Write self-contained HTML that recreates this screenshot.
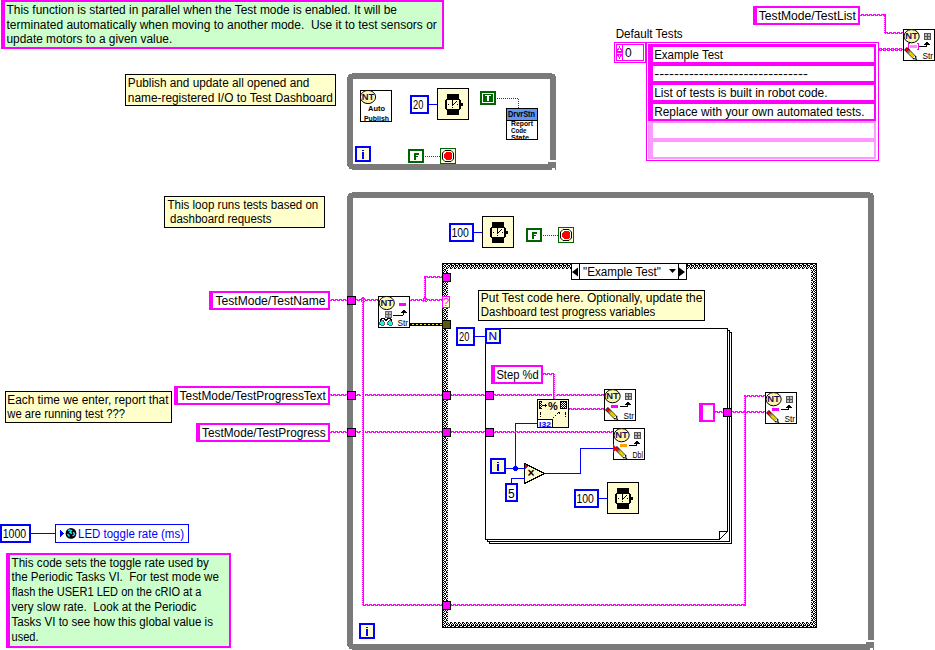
<!DOCTYPE html>
<html><head><meta charset="utf-8"><style>
html,body{margin:0;padding:0;background:#fff;width:935px;height:650px;overflow:hidden}
svg{display:block;position:absolute;left:0;top:0}
text{font-family:"Liberation Sans",sans-serif;white-space:pre}
</style></head><body>
<svg width="935" height="650" viewBox="0 0 935 650" shape-rendering="crispEdges">
<defs>
<pattern id="hw" x="0" y="0" width="4" height="2" patternUnits="userSpaceOnUse">
<rect x="1" y="0" width="3" height="1" fill="#ff00ff"/><rect x="0" y="1" width="2" height="1" fill="#ff00ff"/><rect x="3" y="1" width="1" height="1" fill="#ff00ff"/></pattern>
<pattern id="vw" x="0" y="0" width="2" height="2" patternUnits="userSpaceOnUse">
<rect x="0" y="0" width="1" height="1" fill="#ff00ff"/><rect x="1" y="0" width="1" height="2" fill="#ff00ff"/></pattern>
<pattern id="aw" x="879" y="48" width="4" height="3" patternUnits="userSpaceOnUse">
<rect x="0" y="0" width="3" height="3" fill="#ff00ff"/><rect x="1" y="1" width="1" height="1" fill="#fff"/><rect x="3" y="1" width="1" height="1" fill="#ff00ff"/></pattern>
<pattern id="ckt" x="0" y="264" width="4" height="5" patternUnits="userSpaceOnUse"><rect width="4" height="5" fill="#fff"/><rect x="2" y="0" width="1" height="1" fill="#000"/><rect x="3" y="0" width="1" height="1" fill="#000"/><rect x="0" y="1" width="1" height="1" fill="#000"/><rect x="1" y="1" width="1" height="1" fill="#000"/><rect x="3" y="1" width="1" height="1" fill="#000"/><rect x="1" y="2" width="1" height="1" fill="#000"/><rect x="3" y="2" width="1" height="1" fill="#000"/><rect x="0" y="3" width="1" height="1" fill="#000"/><rect x="2" y="3" width="1" height="1" fill="#000"/><rect x="2" y="4" width="1" height="1" fill="#000"/><rect x="3" y="4" width="1" height="1" fill="#000"/></pattern>
<pattern id="ckb" x="0" y="622" width="4" height="5" patternUnits="userSpaceOnUse"><rect width="4" height="5" fill="#fff"/><rect x="2" y="0" width="1" height="1" fill="#000"/><rect x="3" y="0" width="1" height="1" fill="#000"/><rect x="0" y="1" width="1" height="1" fill="#000"/><rect x="2" y="1" width="1" height="1" fill="#000"/><rect x="1" y="2" width="1" height="1" fill="#000"/><rect x="3" y="2" width="1" height="1" fill="#000"/><rect x="0" y="3" width="1" height="1" fill="#000"/><rect x="1" y="3" width="1" height="1" fill="#000"/><rect x="3" y="3" width="1" height="1" fill="#000"/><rect x="2" y="4" width="1" height="1" fill="#000"/><rect x="3" y="4" width="1" height="1" fill="#000"/></pattern>
<pattern id="ckl" x="443" y="0" width="5" height="4" patternUnits="userSpaceOnUse"><rect width="5" height="4" fill="#fff"/><rect x="0" y="0" width="1" height="1" fill="#000"/><rect x="3" y="0" width="1" height="1" fill="#000"/><rect x="4" y="0" width="1" height="1" fill="#000"/><rect x="1" y="1" width="1" height="1" fill="#000"/><rect x="2" y="1" width="1" height="1" fill="#000"/><rect x="0" y="2" width="1" height="1" fill="#000"/><rect x="2" y="2" width="1" height="1" fill="#000"/><rect x="4" y="2" width="1" height="1" fill="#000"/><rect x="1" y="3" width="1" height="1" fill="#000"/><rect x="3" y="3" width="1" height="1" fill="#000"/></pattern>
<pattern id="ckr" x="811" y="0" width="5" height="4" patternUnits="userSpaceOnUse"><rect width="5" height="4" fill="#fff"/><rect x="0" y="0" width="1" height="1" fill="#000"/><rect x="1" y="0" width="1" height="1" fill="#000"/><rect x="4" y="0" width="1" height="1" fill="#000"/><rect x="2" y="1" width="1" height="1" fill="#000"/><rect x="3" y="1" width="1" height="1" fill="#000"/><rect x="0" y="2" width="1" height="1" fill="#000"/><rect x="2" y="2" width="1" height="1" fill="#000"/><rect x="4" y="2" width="1" height="1" fill="#000"/><rect x="1" y="3" width="1" height="1" fill="#000"/><rect x="3" y="3" width="1" height="1" fill="#000"/></pattern>
<pattern id="dith" x="0" y="0" width="2" height="2" patternUnits="userSpaceOnUse">
<rect x="0" y="0" width="1" height="1" fill="#fff"/><rect x="1" y="1" width="1" height="1" fill="#fff"/></pattern>
<pattern id="olw" x="0" y="324" width="4" height="1" patternUnits="userSpaceOnUse">
<rect x="0" y="0" width="2" height="1" fill="#f0e820"/></pattern>
</defs>
<rect x="1" y="0" width="443" height="49" fill="#ccffcc" />
<rect x="1" y="0" width="443" height="2" fill="#ff00ff" />
<rect x="1" y="47" width="443" height="2" fill="#ff00ff" />
<rect x="1" y="0" width="4" height="49" fill="#ff00ff" />
<rect x="442" y="0" width="2" height="49" fill="#ff00ff" />
<text x="6.5" y="13.9" font-size="12" fill="#000" font-family="Liberation Sans" textLength="390.5" lengthAdjust="spacingAndGlyphs" >This function is started in parallel when the Test mode is enabled. It will be</text>
<text x="6.5" y="28.65" font-size="12" fill="#000" font-family="Liberation Sans" textLength="430.3" lengthAdjust="spacingAndGlyphs" >terminated automatically when moving to another mode.  Use it to test sensors or</text>
<text x="6.5" y="43.4" font-size="12" fill="#000" font-family="Liberation Sans" textLength="165.7" lengthAdjust="spacingAndGlyphs" >update motors to a given value.</text>
<rect x="125" y="74" width="211" height="32" fill="#ffffcc" />
<rect x="125" y="74" width="211" height="1" fill="#000" />
<rect x="125" y="105" width="211" height="1" fill="#000" />
<rect x="125" y="74" width="1" height="32" fill="#000" />
<rect x="335" y="74" width="1" height="32" fill="#000" />
<text x="127.8" y="87.0" font-size="12" fill="#000" font-family="Liberation Sans" textLength="181.5" lengthAdjust="spacingAndGlyphs" >Publish and update all opened and</text>
<text x="127.8" y="101.8" font-size="12" fill="#000" font-family="Liberation Sans" textLength="205" lengthAdjust="spacingAndGlyphs" >name-registered I/O to Test Dashboard</text>
<rect x="164" y="196" width="161" height="32" fill="#ffffcc" />
<rect x="164" y="196" width="161" height="1" fill="#000" />
<rect x="164" y="227" width="161" height="1" fill="#000" />
<rect x="164" y="196" width="1" height="32" fill="#000" />
<rect x="324" y="196" width="1" height="32" fill="#000" />
<text x="167.5" y="208.7" font-size="12" fill="#000" font-family="Liberation Sans" textLength="150.8" lengthAdjust="spacingAndGlyphs" >This loop runs tests based on</text>
<text x="170" y="223.2" font-size="12" fill="#000" font-family="Liberation Sans" textLength="101.5" lengthAdjust="spacingAndGlyphs" >dashboard requests</text>
<rect x="5" y="391" width="167" height="32" fill="#ffffcc" />
<rect x="5" y="391" width="167" height="1" fill="#000" />
<rect x="5" y="422" width="167" height="1" fill="#000" />
<rect x="5" y="391" width="1" height="32" fill="#000" />
<rect x="171" y="391" width="1" height="32" fill="#000" />
<text x="7.3" y="403.5" font-size="12" fill="#000" font-family="Liberation Sans" textLength="161.2" lengthAdjust="spacingAndGlyphs" >Each time we enter, report that</text>
<text x="7.3" y="418.1" font-size="12" fill="#000" font-family="Liberation Sans" textLength="117.8" lengthAdjust="spacingAndGlyphs" >we are running test ???</text>
<rect x="347" y="73" width="209" height="97" fill="#7a7a7a" />
<rect x="353" y="79" width="197" height="85" fill="#fff" />
<rect x="347" y="73" width="5" height="1" fill="#fff" />
<rect x="347" y="74" width="2" height="1" fill="#fff" />
<rect x="347" y="75" width="1" height="2" fill="#fff" />
<rect x="552" y="73" width="4" height="1" fill="#fff" />
<rect x="555" y="74" width="1" height="2" fill="#fff" />
<rect x="347" y="166" width="1" height="4" fill="#fff" />
<rect x="348" y="167" width="1" height="3" fill="#fff" />
<rect x="349" y="169" width="3" height="1" fill="#fff" />
<rect x="550" y="160" width="6" height="2" fill="#fff" />
<rect x="548" y="162" width="2" height="2" fill="#7a7a7a" />
<rect x="552" y="168" width="3" height="2" fill="#fff" />
<rect x="347" y="192" width="527" height="458" fill="#7a7a7a" />
<rect x="353" y="198" width="515" height="446" fill="#fff" />
<rect x="347" y="192" width="5" height="1" fill="#fff" />
<rect x="347" y="193" width="2" height="1" fill="#fff" />
<rect x="347" y="194" width="1" height="2" fill="#fff" />
<rect x="870" y="192" width="4" height="1" fill="#fff" />
<rect x="873" y="193" width="1" height="2" fill="#fff" />
<rect x="347" y="646" width="1" height="4" fill="#fff" />
<rect x="348" y="647" width="1" height="3" fill="#fff" />
<rect x="349" y="649" width="3" height="1" fill="#fff" />
<rect x="868" y="640" width="6" height="2" fill="#fff" />
<rect x="866" y="642" width="2" height="2" fill="#7a7a7a" />
<rect x="870" y="648" width="3" height="2" fill="#fff" />
<rect x="360" y="90" width="32" height="32" fill="#fff" />
<rect x="360" y="90" width="32" height="1" fill="#000" />
<rect x="360" y="121" width="32" height="1" fill="#000" />
<rect x="360" y="90" width="1" height="32" fill="#000" />
<rect x="391" y="90" width="1" height="32" fill="#000" />
<ellipse cx="368" cy="97" rx="7.6" ry="6.6" fill="#fff6a8" stroke="#000" stroke-width="1" shape-rendering="auto"/>
<text x="361.7" y="100.2" font-size="9.5" fill="#10105a" font-family="Liberation Sans" textLength="12.5" lengthAdjust="spacingAndGlyphs" font-weight="bold" >NT</text>
<text x="368" y="111" font-size="8" fill="#000" font-family="Liberation Sans" textLength="17" lengthAdjust="spacingAndGlyphs" font-weight="bold" >Auto</text>
<text x="364" y="121" font-size="8" fill="#000" font-family="Liberation Sans" textLength="25" lengthAdjust="spacingAndGlyphs" font-weight="bold" >Publish</text>
<rect x="410" y="95" width="19" height="19" fill="#fff" />
<rect x="410" y="95" width="19" height="2" fill="#0000ff" />
<rect x="410" y="112" width="19" height="2" fill="#0000ff" />
<rect x="410" y="95" width="2" height="19" fill="#0000ff" />
<rect x="427" y="95" width="2" height="19" fill="#0000ff" />
<text x="413" y="109" font-size="12" fill="#000" font-family="Liberation Sans" textLength="10.3" lengthAdjust="spacingAndGlyphs" >20</text>
<rect x="429" y="104" width="9" height="1" fill="#0000ff" />
<rect x="437" y="88" width="32" height="32" fill="#fffcd0" />
<rect x="437" y="88" width="32" height="1" fill="#000" />
<rect x="437" y="119" width="32" height="1" fill="#000" />
<rect x="437" y="88" width="1" height="32" fill="#000" />
<rect x="468" y="88" width="1" height="32" fill="#000" />
<rect x="447" y="94" width="12" height="5" fill="#000" />
<rect x="447" y="110" width="12" height="5" fill="#000" />
<rect x="446" y="99" width="14" height="1" fill="#000" />
<rect x="446" y="109" width="14" height="1" fill="#000" />
<rect x="445" y="100" width="2" height="9" fill="#000" />
<rect x="459" y="100" width="2" height="9" fill="#000" />
<rect x="461" y="103" width="2" height="3" fill="#000" />
<rect x="452" y="100" width="1" height="6" fill="#000" />
<rect x="453" y="104" width="1" height="1" fill="#000" />
<rect x="454" y="103" width="1" height="1" fill="#000" />
<rect x="455" y="102" width="1" height="1" fill="#000" />
<rect x="456" y="101" width="1" height="1" fill="#000" />
<rect x="448" y="104" width="1" height="1" fill="#000" />
<rect x="457" y="104" width="1" height="1" fill="#000" />
<rect x="452" y="107" width="1" height="1" fill="#000" />
<rect x="480" y="91" width="16" height="14" fill="#006400" />
<rect x="482" y="93" width="12" height="1" fill="#fff" />
<rect x="482" y="102" width="12" height="1" fill="#fff" />
<rect x="482" y="93" width="1" height="10" fill="#fff" />
<rect x="493" y="93" width="1" height="10" fill="#fff" />
<rect x="485" y="95" width="6" height="1" fill="#fff" />
<rect x="487" y="96" width="2" height="5" fill="#fff" />
<polyline points="496.5,98.5 518.5,98.5 518.5,108.5" fill="none" stroke="#006400" stroke-width="1" stroke-dasharray="1,1"/>
<rect x="506" y="108" width="32" height="32" fill="#fff" />
<rect x="506" y="108" width="32" height="1" fill="#000" />
<rect x="506" y="139" width="32" height="1" fill="#000" />
<rect x="506" y="108" width="1" height="32" fill="#000" />
<rect x="537" y="108" width="1" height="32" fill="#000" />
<rect x="507" y="109" width="30" height="11" fill="#6495ed" />
<rect x="507" y="120" width="30" height="1" fill="#000" />
<text x="508" y="117" font-size="8.5" fill="#000" font-family="Liberation Sans" textLength="27" lengthAdjust="spacingAndGlyphs" font-weight="bold" >DrvrStn</text>
<text x="511" y="126" font-size="7" fill="#000" font-family="Liberation Sans" textLength="22" lengthAdjust="spacingAndGlyphs" font-weight="bold" >Report</text>
<text x="511" y="133" font-size="7" fill="#000" font-family="Liberation Sans" textLength="15.5" lengthAdjust="spacingAndGlyphs" font-weight="bold" >Code</text>
<text x="511" y="140" font-size="7" fill="#000" font-family="Liberation Sans" textLength="18" lengthAdjust="spacingAndGlyphs" font-weight="bold" >State</text>
<rect x="506" y="139" width="32" height="1" fill="#000" />
<rect x="355" y="146" width="16" height="16" fill="#fffcd0" />
<rect x="355" y="146" width="16" height="2" fill="#0000ff" />
<rect x="355" y="160" width="16" height="2" fill="#0000ff" />
<rect x="355" y="146" width="2" height="16" fill="#0000ff" />
<rect x="369" y="146" width="2" height="16" fill="#0000ff" />
<rect x="362" y="150" width="2" height="1" fill="#0000ff" />
<rect x="362" y="152" width="2" height="7" fill="#0000ff" />
<rect x="408" y="149" width="16" height="14" fill="#fff" />
<rect x="408" y="149" width="16" height="2" fill="#006400" />
<rect x="408" y="161" width="16" height="2" fill="#006400" />
<rect x="408" y="149" width="2" height="14" fill="#006400" />
<rect x="422" y="149" width="2" height="14" fill="#006400" />
<rect x="414" y="153" width="2" height="7" fill="#006400" />
<rect x="414" y="153" width="5" height="2" fill="#006400" />
<rect x="414" y="156" width="4" height="1" fill="#006400" />
<polyline points="424.5,156.5 440.5,156.5" fill="none" stroke="#006400" stroke-width="1" stroke-dasharray="1,1"/>
<rect x="440" y="148" width="16" height="16" fill="#fffcd0" />
<rect x="440" y="148" width="16" height="1" fill="#006400" />
<rect x="440" y="163" width="16" height="1" fill="#006400" />
<rect x="440" y="148" width="1" height="16" fill="#006400" />
<rect x="455" y="148" width="1" height="16" fill="#006400" />
<path d="M445,150.5 H451 L453.5,153 V159 L451,161.5 H445 L442.5,159 V153 Z" fill="#fff" stroke="#000" stroke-width="1" shape-rendering="auto"/>
<path d="M446,152 H450 L452,154 V158 L450,160 H446 L444,158 V154 Z" fill="#ff0000"/>
<rect x="449" y="223" width="25" height="19" fill="#fff" />
<rect x="449" y="223" width="25" height="2" fill="#0000ff" />
<rect x="449" y="240" width="25" height="2" fill="#0000ff" />
<rect x="449" y="223" width="2" height="19" fill="#0000ff" />
<rect x="472" y="223" width="2" height="19" fill="#0000ff" />
<text x="451.5" y="237" font-size="12" fill="#000" font-family="Liberation Sans" textLength="17.4" lengthAdjust="spacingAndGlyphs" >100</text>
<rect x="474" y="232" width="9" height="1" fill="#0000ff" />
<rect x="482" y="216" width="32" height="32" fill="#fffcd0" />
<rect x="482" y="216" width="32" height="1" fill="#000" />
<rect x="482" y="247" width="32" height="1" fill="#000" />
<rect x="482" y="216" width="1" height="32" fill="#000" />
<rect x="513" y="216" width="1" height="32" fill="#000" />
<rect x="492" y="222" width="12" height="5" fill="#000" />
<rect x="492" y="238" width="12" height="5" fill="#000" />
<rect x="491" y="227" width="14" height="1" fill="#000" />
<rect x="491" y="237" width="14" height="1" fill="#000" />
<rect x="490" y="228" width="2" height="9" fill="#000" />
<rect x="504" y="228" width="2" height="9" fill="#000" />
<rect x="506" y="231" width="2" height="3" fill="#000" />
<rect x="497" y="228" width="1" height="6" fill="#000" />
<rect x="498" y="232" width="1" height="1" fill="#000" />
<rect x="499" y="231" width="1" height="1" fill="#000" />
<rect x="500" y="230" width="1" height="1" fill="#000" />
<rect x="501" y="229" width="1" height="1" fill="#000" />
<rect x="493" y="232" width="1" height="1" fill="#000" />
<rect x="502" y="232" width="1" height="1" fill="#000" />
<rect x="497" y="235" width="1" height="1" fill="#000" />
<rect x="526" y="228" width="16" height="14" fill="#fff" />
<rect x="526" y="228" width="16" height="2" fill="#006400" />
<rect x="526" y="240" width="16" height="2" fill="#006400" />
<rect x="526" y="228" width="2" height="14" fill="#006400" />
<rect x="540" y="228" width="2" height="14" fill="#006400" />
<rect x="532" y="232" width="2" height="7" fill="#006400" />
<rect x="532" y="232" width="5" height="2" fill="#006400" />
<rect x="532" y="235" width="4" height="1" fill="#006400" />
<polyline points="542.5,235.5 558.5,235.5" fill="none" stroke="#006400" stroke-width="1" stroke-dasharray="1,1"/>
<rect x="558" y="227" width="16" height="16" fill="#fffcd0" />
<rect x="558" y="227" width="16" height="1" fill="#006400" />
<rect x="558" y="242" width="16" height="1" fill="#006400" />
<rect x="558" y="227" width="1" height="16" fill="#006400" />
<rect x="573" y="227" width="1" height="16" fill="#006400" />
<path d="M563,229.5 H569 L571.5,232 V238 L569,240.5 H563 L560.5,238 V232 Z" fill="#fff" stroke="#000" stroke-width="1" shape-rendering="auto"/>
<path d="M564,231 H568 L570,233 V237 L568,239 H564 L562,237 V233 Z" fill="#ff0000"/>
<rect x="359" y="623" width="16" height="16" fill="#fffcd0" />
<rect x="359" y="623" width="16" height="2" fill="#0000ff" />
<rect x="359" y="637" width="16" height="2" fill="#0000ff" />
<rect x="359" y="623" width="2" height="16" fill="#0000ff" />
<rect x="373" y="623" width="2" height="16" fill="#0000ff" />
<rect x="366" y="627" width="2" height="1" fill="#0000ff" />
<rect x="366" y="629" width="2" height="7" fill="#0000ff" />
<rect x="443" y="264" width="373" height="5" fill="url(#ckt)" />
<rect x="443" y="622" width="373" height="5" fill="url(#ckb)" />
<rect x="443" y="264" width="5" height="363" fill="url(#ckl)" />
<rect x="811" y="264" width="5" height="363" fill="url(#ckr)" />
<rect x="442" y="263" width="375" height="1" fill="#000" />
<rect x="442" y="627" width="375" height="1" fill="#000" />
<rect x="442" y="263" width="1" height="365" fill="#000" />
<rect x="816" y="263" width="1" height="365" fill="#000" />
<rect x="571" y="263" width="116" height="17" fill="#fff" />
<rect x="571" y="263" width="116" height="1" fill="#000" />
<rect x="571" y="279" width="116" height="1" fill="#000" />
<rect x="571" y="263" width="1" height="17" fill="#000" />
<rect x="686" y="263" width="1" height="17" fill="#000" />
<rect x="579" y="263" width="1" height="17" fill="#000" />
<rect x="678" y="263" width="1" height="17" fill="#000" />
<path d="M572,272 L578,267.5 L578,276.5 Z" fill="#000" shape-rendering="auto"/>
<path d="M685,272 L679,267.5 L679,276.5 Z" fill="#000" shape-rendering="auto"/>
<path d="M669,269 L676,269 L672.5,273 Z" fill="#000" shape-rendering="auto"/>
<text x="583" y="276" font-size="12" fill="#000" font-family="Liberation Sans" textLength="78" lengthAdjust="spacingAndGlyphs" >"Example Test"</text>
<rect x="478" y="290" width="227" height="31" fill="#ffffcc" />
<rect x="478" y="290" width="227" height="1" fill="#000" />
<rect x="478" y="320" width="227" height="1" fill="#000" />
<rect x="478" y="290" width="1" height="31" fill="#000" />
<rect x="704" y="290" width="1" height="31" fill="#000" />
<text x="480.8" y="301.8" font-size="12" fill="#000" font-family="Liberation Sans" textLength="221.5" lengthAdjust="spacingAndGlyphs" >Put Test code here. Optionally, update the</text>
<text x="480.8" y="316.40000000000003" font-size="12" fill="#000" font-family="Liberation Sans" textLength="174.5" lengthAdjust="spacingAndGlyphs" >Dashboard test progress variables</text>
<rect x="485" y="328" width="243" height="1" fill="#000" />
<rect x="485" y="328" width="1" height="212" fill="#000" />
<rect x="727" y="328" width="1" height="204" fill="#000" />
<rect x="485" y="539" width="235" height="1" fill="#000" />
<rect x="727" y="330" width="3" height="1" fill="#000" />
<rect x="729" y="330" width="1" height="212" fill="#000" />
<rect x="487" y="541" width="243" height="1" fill="#000" />
<rect x="487" y="539" width="1" height="3" fill="#000" />
<rect x="729" y="332" width="3" height="1" fill="#000" />
<rect x="731" y="332" width="1" height="212" fill="#000" />
<rect x="489" y="543" width="243" height="1" fill="#000" />
<rect x="489" y="541" width="1" height="3" fill="#000" />
<path d="M719.5,539.5 L719.5,531.5 L727.5,531.5 Z" fill="#fff" stroke="#000" stroke-width="1"/>
<rect x="456" y="327" width="19" height="19" fill="#fff" />
<rect x="456" y="327" width="19" height="2" fill="#0000ff" />
<rect x="456" y="344" width="19" height="2" fill="#0000ff" />
<rect x="456" y="327" width="2" height="19" fill="#0000ff" />
<rect x="473" y="327" width="2" height="19" fill="#0000ff" />
<text x="459" y="341" font-size="12" fill="#000" font-family="Liberation Sans" textLength="10.3" lengthAdjust="spacingAndGlyphs" >20</text>
<rect x="475" y="336" width="11" height="1" fill="#0000ff" />
<rect x="485" y="328" width="16" height="16" fill="#fffcd0" />
<rect x="485" y="328" width="16" height="2" fill="#0000ff" />
<rect x="485" y="342" width="16" height="2" fill="#0000ff" />
<rect x="485" y="328" width="2" height="16" fill="#0000ff" />
<rect x="499" y="328" width="2" height="16" fill="#0000ff" />
<text x="488.5" y="340.3" font-size="11.5" fill="#0000ff" font-family="Liberation Sans" textLength="8.5" lengthAdjust="spacingAndGlyphs" stroke="#0000ff" stroke-width="0.2">N</text>
<rect x="491" y="365" width="52" height="19" fill="#fff" />
<rect x="491" y="365" width="52" height="2" fill="#ff00ff" />
<rect x="491" y="382" width="52" height="2" fill="#ff00ff" />
<rect x="491" y="365" width="4" height="19" fill="#ff00ff" />
<rect x="541" y="365" width="2" height="19" fill="#ff00ff" />
<text x="496.4" y="379" font-size="12" fill="#000" font-family="Liberation Sans" textLength="42.3" lengthAdjust="spacingAndGlyphs" >Step %d</text>
<rect x="537" y="399" width="32" height="29" fill="#fffcd0" />
<rect x="537" y="399" width="32" height="1" fill="#000" />
<rect x="537" y="427" width="32" height="1" fill="#000" />
<rect x="537" y="399" width="1" height="29" fill="#000" />
<rect x="568" y="399" width="1" height="29" fill="#000" />
<rect x="539" y="401" width="3" height="8" fill="#000" />
<rect x="540" y="402" width="1" height="1" fill="#fffcd0" />
<rect x="540" y="404" width="1" height="1" fill="#fffcd0" />
<rect x="540" y="406" width="1" height="1" fill="#fffcd0" />
<rect x="541" y="403" width="1" height="1" fill="#fffcd0" />
<rect x="541" y="405" width="1" height="1" fill="#fffcd0" />
<rect x="541" y="407" width="1" height="1" fill="#fffcd0" />
<rect x="542" y="405" width="4" height="1" fill="#000" />
<rect x="545" y="404" width="1" height="3" fill="#000" />
<rect x="546" y="405" width="1" height="1" fill="#000" />
<text x="553" y="409.5" font-size="11" fill="#000" font-family="Liberation Sans" text-anchor="middle" font-weight="bold" shape-rendering="auto">%</text>
<rect x="560" y="401" width="7" height="8" fill="#000" />
<rect x="561" y="402" width="5" height="6" fill="url(#dith)"/>
<rect x="540" y="412" width="1" height="3" fill="#000" />
<rect x="540" y="416" width="1" height="1" fill="#000" />
<rect x="565" y="412" width="1" height="3" fill="#000" />
<rect x="565" y="416" width="1" height="1" fill="#000" />
<rect x="553" y="417" width="1" height="1" fill="#000" />
<rect x="555" y="415" width="1" height="1" fill="#000" />
<rect x="557" y="413" width="1" height="1" fill="#000" />
<rect x="558" y="412" width="2" height="1" fill="#000" />
<rect x="559" y="413" width="1" height="1" fill="#000" />
<rect x="537" y="419" width="16" height="9" fill="#fff" />
<rect x="537" y="419" width="16" height="1" fill="#000" />
<rect x="537" y="427" width="16" height="1" fill="#000" />
<rect x="537" y="419" width="1" height="9" fill="#000" />
<rect x="552" y="419" width="1" height="9" fill="#000" />
<text x="545" y="427" font-size="7.5" fill="#0000ff" font-family="Liberation Sans" textLength="12" lengthAdjust="spacingAndGlyphs" text-anchor="middle" font-weight="bold" >I32</text>
<path d="M524.5,463.5 L544.5,473.5 L524.5,483.5 Z" fill="#fffcd0" stroke="#000" stroke-width="1"/>
<path d="M525,464 L528,466 L525,469 Z" fill="#e00"/>
<text x="531" y="477" font-size="12" fill="#000" font-family="Liberation Sans" text-anchor="middle" font-weight="bold" >×</text>
<rect x="490" y="458" width="16" height="16" fill="#fffcd0" />
<rect x="490" y="458" width="16" height="2" fill="#0000ff" />
<rect x="490" y="472" width="16" height="2" fill="#0000ff" />
<rect x="490" y="458" width="2" height="16" fill="#0000ff" />
<rect x="504" y="458" width="2" height="16" fill="#0000ff" />
<rect x="497" y="462" width="2" height="1" fill="#0000ff" />
<rect x="497" y="464" width="2" height="7" fill="#0000ff" />
<rect x="505" y="483" width="13" height="19" fill="#fff" />
<rect x="505" y="483" width="13" height="2" fill="#0000ff" />
<rect x="505" y="500" width="13" height="2" fill="#0000ff" />
<rect x="505" y="483" width="2" height="19" fill="#0000ff" />
<rect x="516" y="483" width="2" height="19" fill="#0000ff" />
<text x="508" y="498" font-size="12" fill="#000" font-family="Liberation Sans" >5</text>
<rect x="506" y="468" width="19" height="1" fill="#0000ff" />
<circle cx="515.5" cy="468.5" r="2.5" fill="#0000ff"/>
<rect x="515" y="423" width="1" height="46" fill="#0000ff" />
<rect x="515" y="423" width="23" height="1" fill="#0000ff" />
<rect x="511" y="478" width="1" height="6" fill="#0000ff" />
<rect x="511" y="478" width="14" height="1" fill="#0000ff" />
<rect x="545" y="473" width="36" height="1" fill="#0000ff" />
<rect x="580" y="448" width="1" height="26" fill="#0000ff" />
<rect x="580" y="448" width="34" height="1" fill="#0000ff" />
<rect x="574" y="489" width="25" height="19" fill="#fff" />
<rect x="574" y="489" width="25" height="2" fill="#0000ff" />
<rect x="574" y="506" width="25" height="2" fill="#0000ff" />
<rect x="574" y="489" width="2" height="19" fill="#0000ff" />
<rect x="597" y="489" width="2" height="19" fill="#0000ff" />
<text x="576.5" y="503" font-size="12" fill="#000" font-family="Liberation Sans" textLength="17.4" lengthAdjust="spacingAndGlyphs" >100</text>
<rect x="599" y="498" width="9" height="1" fill="#0000ff" />
<rect x="607" y="482" width="32" height="32" fill="#fffcd0" />
<rect x="607" y="482" width="32" height="1" fill="#000" />
<rect x="607" y="513" width="32" height="1" fill="#000" />
<rect x="607" y="482" width="1" height="32" fill="#000" />
<rect x="638" y="482" width="1" height="32" fill="#000" />
<rect x="617" y="488" width="12" height="5" fill="#000" />
<rect x="617" y="504" width="12" height="5" fill="#000" />
<rect x="616" y="493" width="14" height="1" fill="#000" />
<rect x="616" y="503" width="14" height="1" fill="#000" />
<rect x="615" y="494" width="2" height="9" fill="#000" />
<rect x="629" y="494" width="2" height="9" fill="#000" />
<rect x="631" y="497" width="2" height="3" fill="#000" />
<rect x="622" y="494" width="1" height="6" fill="#000" />
<rect x="623" y="498" width="1" height="1" fill="#000" />
<rect x="624" y="497" width="1" height="1" fill="#000" />
<rect x="625" y="496" width="1" height="1" fill="#000" />
<rect x="626" y="495" width="1" height="1" fill="#000" />
<rect x="618" y="498" width="1" height="1" fill="#000" />
<rect x="627" y="498" width="1" height="1" fill="#000" />
<rect x="622" y="501" width="1" height="1" fill="#000" />
<rect x="604" y="389" width="32" height="32" fill="#fff" />
<rect x="604" y="389" width="32" height="1" fill="#000" />
<rect x="604" y="420" width="32" height="1" fill="#000" />
<rect x="604" y="389" width="1" height="32" fill="#000" />
<rect x="635" y="389" width="1" height="32" fill="#000" />
<ellipse cx="612.6" cy="396.2" rx="7.6" ry="6.6" fill="#fff6a8" stroke="#000" stroke-width="1" shape-rendering="auto"/>
<text x="606.3000000000001" y="399.4" font-size="9.5" fill="#10105a" font-family="Liberation Sans" textLength="12.5" lengthAdjust="spacingAndGlyphs" font-weight="bold" >NT</text>
<rect x="625" y="393" width="7" height="7" fill="#555" />
<rect x="626" y="394" width="2" height="2" fill="#bbb" />
<rect x="629" y="394" width="2" height="2" fill="#bbb" />
<rect x="626" y="397" width="2" height="2" fill="#bbb" />
<rect x="629" y="397" width="2" height="2" fill="#bbb" />
<rect x="611" y="405" width="7" height="3" fill="#ff00ff" />
<path d="M620,406.5 H625 Q628,406.5 628,405" fill="none" stroke="#000" stroke-width="1"/>
<path d="M625,405 L628,401 L631,405 Z" fill="#000"/>
<g transform="translate(606.5,408.5) rotate(45)" shape-rendering="auto"><rect x="0" y="-2" width="14" height="4" fill="#000"/><rect x="0.5" y="-1.5" width="3" height="3" fill="#f00"/><rect x="3.5" y="-1.5" width="2" height="3" fill="#888"/><rect x="5.5" y="-1.5" width="6" height="3" fill="#e8d000"/><path d="M11.5,-1.5 L14,0 L11.5,1.5 Z" fill="#fff"/><rect x="14" y="-0.7" width="2" height="1.4" fill="#000"/></g>
<text x="623.5" y="419" font-size="9.5" fill="#000" font-family="Liberation Sans" textLength="10.5" lengthAdjust="spacingAndGlyphs" >Str</text>
<rect x="613" y="428" width="32" height="32" fill="#fff" />
<rect x="613" y="428" width="32" height="1" fill="#000" />
<rect x="613" y="459" width="32" height="1" fill="#000" />
<rect x="613" y="428" width="1" height="32" fill="#000" />
<rect x="644" y="428" width="1" height="32" fill="#000" />
<ellipse cx="621.6" cy="435.2" rx="7.6" ry="6.6" fill="#fff6a8" stroke="#000" stroke-width="1" shape-rendering="auto"/>
<text x="615.3000000000001" y="438.4" font-size="9.5" fill="#10105a" font-family="Liberation Sans" textLength="12.5" lengthAdjust="spacingAndGlyphs" font-weight="bold" >NT</text>
<rect x="634" y="432" width="7" height="7" fill="#555" />
<rect x="635" y="433" width="2" height="2" fill="#bbb" />
<rect x="638" y="433" width="2" height="2" fill="#bbb" />
<rect x="635" y="436" width="2" height="2" fill="#bbb" />
<rect x="638" y="436" width="2" height="2" fill="#bbb" />
<rect x="620" y="444" width="7" height="3" fill="#ffa000" />
<path d="M629,445.5 H634 Q637,445.5 637,444" fill="none" stroke="#000" stroke-width="1"/>
<path d="M634,444 L637,440 L640,444 Z" fill="#000"/>
<g transform="translate(615.5,447.5) rotate(45)" shape-rendering="auto"><rect x="0" y="-2" width="14" height="4" fill="#000"/><rect x="0.5" y="-1.5" width="3" height="3" fill="#f00"/><rect x="3.5" y="-1.5" width="2" height="3" fill="#888"/><rect x="5.5" y="-1.5" width="6" height="3" fill="#e8d000"/><path d="M11.5,-1.5 L14,0 L11.5,1.5 Z" fill="#fff"/><rect x="14" y="-0.7" width="2" height="1.4" fill="#000"/></g>
<text x="632.5" y="458" font-size="9.5" fill="#000" font-family="Liberation Sans" textLength="10.5" lengthAdjust="spacingAndGlyphs" >Dbl</text>
<path d="M613,444 L617,448.5 L613,453 Z" fill="#e00" shape-rendering="auto"/>
<rect x="378" y="296" width="32" height="32" fill="#fff" />
<rect x="378" y="296" width="32" height="1" fill="#000" />
<rect x="378" y="327" width="32" height="1" fill="#000" />
<rect x="378" y="296" width="1" height="32" fill="#000" />
<rect x="409" y="296" width="1" height="32" fill="#000" />
<ellipse cx="386.7" cy="303" rx="7.6" ry="6.6" fill="#fff6a8" stroke="#000" stroke-width="1" shape-rendering="auto"/>
<text x="380.4" y="306.2" font-size="9.5" fill="#10105a" font-family="Liberation Sans" textLength="12.5" lengthAdjust="spacingAndGlyphs" font-weight="bold" >NT</text>
<rect x="399" y="303" width="7" height="3" fill="#ff00ff" />
<rect x="385" y="311" width="7" height="7" fill="#666" />
<rect x="386" y="312" width="2" height="2" fill="#bbb" />
<rect x="389" y="312" width="2" height="2" fill="#bbb" />
<rect x="386" y="315" width="2" height="2" fill="#bbb" />
<rect x="389" y="315" width="2" height="2" fill="#bbb" />
<path d="M393,315.5 H401 Q404,315.5 404,313" fill="none" stroke="#000" stroke-width="1"/>
<path d="M401,313 L404,309 L407,313 Z" fill="#000"/>
<path d="M380,321 q3,-6 6,0 q3,-6 6,0" fill="none" stroke="#000" stroke-width="1"/>
<circle cx="382" cy="323" r="2.5" fill="#2ee" stroke="#000" stroke-width="0.6"/>
<circle cx="390" cy="323" r="2.5" fill="#2ee" stroke="#000" stroke-width="0.6"/>
<text x="397.5" y="326" font-size="9.5" fill="#000" font-family="Liberation Sans" textLength="10.5" lengthAdjust="spacingAndGlyphs" >Str</text>
<rect x="765" y="392" width="32" height="32" fill="#fff" />
<rect x="765" y="392" width="32" height="1" fill="#000" />
<rect x="765" y="423" width="32" height="1" fill="#000" />
<rect x="765" y="392" width="1" height="32" fill="#000" />
<rect x="796" y="392" width="1" height="32" fill="#000" />
<ellipse cx="773.6" cy="399.2" rx="7.6" ry="6.6" fill="#fff6a8" stroke="#000" stroke-width="1" shape-rendering="auto"/>
<text x="767.3000000000001" y="402.4" font-size="9.5" fill="#10105a" font-family="Liberation Sans" textLength="12.5" lengthAdjust="spacingAndGlyphs" font-weight="bold" >NT</text>
<rect x="786" y="396" width="7" height="7" fill="#555" />
<rect x="787" y="397" width="2" height="2" fill="#bbb" />
<rect x="790" y="397" width="2" height="2" fill="#bbb" />
<rect x="787" y="400" width="2" height="2" fill="#bbb" />
<rect x="790" y="400" width="2" height="2" fill="#bbb" />
<rect x="772" y="408" width="7" height="3" fill="#ff00ff" />
<path d="M781,409.5 H786 Q789,409.5 789,408" fill="none" stroke="#000" stroke-width="1"/>
<path d="M786,408 L789,404 L792,408 Z" fill="#000"/>
<g transform="translate(767.5,411.5) rotate(45)" shape-rendering="auto"><rect x="0" y="-2" width="14" height="4" fill="#000"/><rect x="0.5" y="-1.5" width="3" height="3" fill="#f00"/><rect x="3.5" y="-1.5" width="2" height="3" fill="#888"/><rect x="5.5" y="-1.5" width="6" height="3" fill="#e8d000"/><path d="M11.5,-1.5 L14,0 L11.5,1.5 Z" fill="#fff"/><rect x="14" y="-0.7" width="2" height="1.4" fill="#000"/></g>
<text x="784.5" y="422" font-size="9.5" fill="#000" font-family="Liberation Sans" textLength="10.5" lengthAdjust="spacingAndGlyphs" >Str</text>
<rect x="442" y="273" width="9" height="9" fill="#ff00ff" />
<rect x="442" y="273" width="9" height="1" fill="#000" />
<rect x="442" y="281" width="9" height="1" fill="#000" />
<rect x="442" y="273" width="1" height="9" fill="#000" />
<rect x="450" y="273" width="1" height="9" fill="#000" />
<rect x="442" y="391" width="9" height="9" fill="#ff00ff" />
<rect x="442" y="391" width="9" height="1" fill="#000" />
<rect x="442" y="399" width="9" height="1" fill="#000" />
<rect x="442" y="391" width="1" height="9" fill="#000" />
<rect x="450" y="391" width="1" height="9" fill="#000" />
<rect x="442" y="428" width="9" height="9" fill="#ff00ff" />
<rect x="442" y="428" width="9" height="1" fill="#000" />
<rect x="442" y="436" width="9" height="1" fill="#000" />
<rect x="442" y="428" width="1" height="9" fill="#000" />
<rect x="450" y="428" width="1" height="9" fill="#000" />
<rect x="442" y="601" width="9" height="9" fill="#ff00ff" />
<rect x="442" y="601" width="9" height="1" fill="#000" />
<rect x="442" y="609" width="9" height="1" fill="#000" />
<rect x="442" y="601" width="1" height="9" fill="#000" />
<rect x="450" y="601" width="1" height="9" fill="#000" />
<rect x="442" y="320" width="9" height="9" fill="#5a5a10" />
<rect x="442" y="320" width="9" height="1" fill="#000" />
<rect x="442" y="328" width="9" height="1" fill="#000" />
<rect x="442" y="320" width="1" height="9" fill="#000" />
<rect x="450" y="320" width="1" height="9" fill="#000" />
<rect x="442" y="296" width="8" height="12" fill="#ffffcc" />
<rect x="442" y="296" width="8" height="1" fill="#ff00ff" />
<rect x="442" y="307" width="8" height="1" fill="#ff00ff" />
<rect x="442" y="296" width="1" height="12" fill="#ff00ff" />
<rect x="449" y="296" width="1" height="12" fill="#ff00ff" />
<text x="446" y="306" font-size="11" fill="#ff00ff" font-family="Liberation Sans" text-anchor="middle" >?</text>
<rect x="347" y="296" width="9" height="9" fill="#ff00ff" />
<rect x="347" y="296" width="9" height="1" fill="#000" />
<rect x="347" y="304" width="9" height="1" fill="#000" />
<rect x="347" y="296" width="1" height="9" fill="#000" />
<rect x="355" y="296" width="1" height="9" fill="#000" />
<rect x="347" y="391" width="9" height="9" fill="#ff00ff" />
<rect x="347" y="391" width="9" height="1" fill="#000" />
<rect x="347" y="399" width="9" height="1" fill="#000" />
<rect x="347" y="391" width="1" height="9" fill="#000" />
<rect x="355" y="391" width="1" height="9" fill="#000" />
<rect x="347" y="428" width="9" height="9" fill="#ff00ff" />
<rect x="347" y="428" width="9" height="1" fill="#000" />
<rect x="347" y="436" width="9" height="1" fill="#000" />
<rect x="347" y="428" width="1" height="9" fill="#000" />
<rect x="355" y="428" width="1" height="9" fill="#000" />
<rect x="485" y="391" width="9" height="9" fill="#ff00ff" />
<rect x="485" y="391" width="9" height="1" fill="#000" />
<rect x="485" y="399" width="9" height="1" fill="#000" />
<rect x="485" y="391" width="1" height="9" fill="#000" />
<rect x="493" y="391" width="1" height="9" fill="#000" />
<rect x="485" y="428" width="9" height="9" fill="#ff00ff" />
<rect x="485" y="428" width="9" height="1" fill="#000" />
<rect x="485" y="436" width="9" height="1" fill="#000" />
<rect x="485" y="428" width="1" height="9" fill="#000" />
<rect x="493" y="428" width="1" height="9" fill="#000" />
<rect x="723" y="408" width="9" height="9" fill="#ff00ff" />
<rect x="723" y="408" width="9" height="1" fill="#000" />
<rect x="723" y="416" width="9" height="1" fill="#000" />
<rect x="723" y="408" width="1" height="9" fill="#000" />
<rect x="731" y="408" width="1" height="9" fill="#000" />
<rect x="699" y="403" width="16" height="19" fill="#fff" />
<rect x="699" y="403" width="16" height="2" fill="#ff00ff" />
<rect x="699" y="420" width="16" height="2" fill="#ff00ff" />
<rect x="699" y="403" width="4" height="19" fill="#ff00ff" />
<rect x="713" y="403" width="2" height="19" fill="#ff00ff" />
<rect x="209" y="291" width="121" height="19" fill="#fff" />
<rect x="209" y="291" width="121" height="2" fill="#ff00ff" />
<rect x="209" y="308" width="121" height="2" fill="#ff00ff" />
<rect x="209" y="291" width="4" height="19" fill="#ff00ff" />
<rect x="328" y="291" width="2" height="19" fill="#ff00ff" />
<text x="215.5" y="305" font-size="12" fill="#000" font-family="Liberation Sans" textLength="110" lengthAdjust="spacingAndGlyphs" >TestMode/TestName</text>
<rect x="174" y="386" width="156" height="19" fill="#fff" />
<rect x="174" y="386" width="156" height="2" fill="#ff00ff" />
<rect x="174" y="403" width="156" height="2" fill="#ff00ff" />
<rect x="174" y="386" width="4" height="19" fill="#ff00ff" />
<rect x="328" y="386" width="2" height="19" fill="#ff00ff" />
<text x="179.6" y="400" font-size="12" fill="#000" font-family="Liberation Sans" textLength="146.1" lengthAdjust="spacingAndGlyphs" >TestMode/TestProgressText</text>
<rect x="196" y="423" width="134" height="19" fill="#fff" />
<rect x="196" y="423" width="134" height="2" fill="#ff00ff" />
<rect x="196" y="440" width="134" height="2" fill="#ff00ff" />
<rect x="196" y="423" width="4" height="19" fill="#ff00ff" />
<rect x="328" y="423" width="2" height="19" fill="#ff00ff" />
<text x="202" y="437" font-size="12" fill="#000" font-family="Liberation Sans" textLength="123.7" lengthAdjust="spacingAndGlyphs" >TestMode/TestProgress</text>
<rect x="330" y="299" width="17" height="2" fill="url(#hw)" />
<rect x="356" y="299" width="22" height="2" fill="url(#hw)" />
<rect x="410" y="299" width="32" height="2" fill="url(#hw)" />
<rect x="424" y="276" width="18" height="2" fill="url(#hw)" />
<rect x="330" y="394" width="17" height="2" fill="url(#hw)" />
<rect x="356" y="394" width="86" height="2" fill="url(#hw)" />
<rect x="451" y="394" width="34" height="2" fill="url(#hw)" />
<rect x="494" y="394" width="110" height="2" fill="url(#hw)" />
<rect x="330" y="431" width="17" height="2" fill="url(#hw)" />
<rect x="356" y="431" width="86" height="2" fill="url(#hw)" />
<rect x="451" y="431" width="34" height="2" fill="url(#hw)" />
<rect x="494" y="431" width="119" height="2" fill="url(#hw)" />
<rect x="362" y="604" width="80" height="2" fill="url(#hw)" />
<rect x="451" y="604" width="295" height="2" fill="url(#hw)" />
<rect x="744" y="395" width="21" height="2" fill="url(#hw)" />
<rect x="543" y="373" width="11" height="2" fill="url(#hw)" />
<rect x="569" y="408" width="35" height="2" fill="url(#hw)" />
<rect x="715" y="411" width="8" height="2" fill="url(#hw)" />
<rect x="732" y="411" width="33" height="2" fill="url(#hw)" />
<rect x="361" y="394" width="4" height="2" fill="#fff" />
<rect x="361" y="431" width="4" height="2" fill="#fff" />
<rect x="552" y="394" width="4" height="2" fill="#fff" />
<rect x="362" y="300" width="2" height="306" fill="url(#vw)" />
<rect x="424" y="276" width="2" height="25" fill="url(#vw)" />
<rect x="744" y="395" width="2" height="211" fill="url(#vw)" />
<rect x="553" y="373" width="2" height="26" fill="url(#vw)" />
<rect x="362" y="297" width="2" height="1" fill="#ff00ff" />
<rect x="361" y="298" width="4" height="1" fill="#ff00ff" />
<rect x="361" y="299" width="5" height="2" fill="#ff00ff" />
<rect x="361" y="301" width="4" height="1" fill="#ff00ff" />
<rect x="362" y="299" width="1" height="1" fill="#fff" />
<rect x="364" y="300" width="1" height="1" fill="#fff" />
<rect x="362" y="301" width="1" height="1" fill="#fff" />
<rect x="424" y="297" width="2" height="1" fill="#ff00ff" />
<rect x="423" y="298" width="4" height="1" fill="#ff00ff" />
<rect x="423" y="299" width="5" height="2" fill="#ff00ff" />
<rect x="423" y="301" width="4" height="1" fill="#ff00ff" />
<rect x="424" y="299" width="1" height="1" fill="#fff" />
<rect x="426" y="300" width="1" height="1" fill="#fff" />
<rect x="424" y="301" width="1" height="1" fill="#fff" />
<rect x="410" y="323" width="32" height="3" fill="#000" />
<rect x="410" y="324" width="32" height="1" fill="url(#olw)"/>
<rect x="0" y="524" width="31" height="19" fill="#fff" />
<rect x="0" y="524" width="31" height="2" fill="#0000ff" />
<rect x="0" y="541" width="31" height="2" fill="#0000ff" />
<rect x="0" y="524" width="2" height="19" fill="#0000ff" />
<rect x="29" y="524" width="2" height="19" fill="#0000ff" />
<text x="2.7" y="538" font-size="12" fill="#000" font-family="Liberation Sans" textLength="23.5" lengthAdjust="spacingAndGlyphs" >1000</text>
<rect x="31" y="533" width="25" height="1" fill="#0000ff" />
<rect x="55" y="524" width="134" height="19" fill="#fff" />
<rect x="55" y="524" width="134" height="1" fill="#0000ff" />
<rect x="55" y="542" width="134" height="1" fill="#0000ff" />
<rect x="55" y="524" width="1" height="19" fill="#0000ff" />
<rect x="188" y="524" width="1" height="19" fill="#0000ff" />
<path d="M60,530 L64,533.5 L60,537 Z" fill="#0000ff"/>
<g shape-rendering="auto"><circle cx="71" cy="533.4" r="5.4" fill="#000"/><path d="M68,530.5 q2,-1 3.5,0 l-1.5,2 l2,1 M73.5,532 l1,2.5 l-2,1.5 M67.5,534 l2,2.5" stroke="#22ddff" stroke-width="1.4" fill="none"/></g>
<text x="78" y="538" font-size="12" fill="#0000ff" font-family="Liberation Sans" textLength="106" lengthAdjust="spacingAndGlyphs" >LED toggle rate (ms)</text>
<rect x="6" y="553" width="225" height="95" fill="#ccffcc" />
<rect x="6" y="553" width="225" height="2" fill="#ff00ff" />
<rect x="6" y="646" width="225" height="2" fill="#ff00ff" />
<rect x="6" y="553" width="4" height="95" fill="#ff00ff" />
<rect x="229" y="553" width="2" height="95" fill="#ff00ff" />
<text x="11.5" y="566.5" font-size="12" fill="#000" font-family="Liberation Sans" textLength="197.3" lengthAdjust="spacingAndGlyphs" >This code sets the toggle rate used by</text>
<text x="11.5" y="581.36" font-size="12" fill="#000" font-family="Liberation Sans" textLength="207.4" lengthAdjust="spacingAndGlyphs" >the Periodic Tasks VI.  For test mode we</text>
<text x="12" y="596.22" font-size="12" fill="#000" font-family="Liberation Sans" textLength="189.5" lengthAdjust="spacingAndGlyphs" >flash the USER1 LED on the cRIO at a</text>
<text x="11.5" y="611.08" font-size="12" fill="#000" font-family="Liberation Sans" textLength="184.9" lengthAdjust="spacingAndGlyphs" >very slow rate.  Look at the Periodic</text>
<text x="11.5" y="625.94" font-size="12" fill="#000" font-family="Liberation Sans" textLength="201.5" lengthAdjust="spacingAndGlyphs" >Tasks VI to see how this global value is</text>
<text x="11.5" y="640.8" font-size="12" fill="#000" font-family="Liberation Sans" textLength="27" lengthAdjust="spacingAndGlyphs" >used.</text>
<rect x="753" y="6" width="107" height="19" fill="#fff" />
<rect x="753" y="6" width="107" height="2" fill="#ff00ff" />
<rect x="753" y="23" width="107" height="2" fill="#ff00ff" />
<rect x="753" y="6" width="4" height="19" fill="#ff00ff" />
<rect x="858" y="6" width="2" height="19" fill="#ff00ff" />
<text x="758.8" y="20" font-size="12" fill="#000" font-family="Liberation Sans" textLength="97" lengthAdjust="spacingAndGlyphs" >TestMode/TestList</text>
<rect x="860" y="14" width="25" height="2" fill="url(#hw)" />
<rect x="884" y="14" width="2" height="20" fill="url(#vw)" />
<rect x="885" y="32" width="18" height="2" fill="url(#hw)" />
<text x="615.7" y="38" font-size="12" fill="#000" font-family="Liberation Sans" textLength="67" lengthAdjust="spacingAndGlyphs" >Default Tests</text>
<rect x="614" y="42" width="32" height="21" fill="#fff" />
<rect x="614" y="42" width="32" height="1" fill="#ff00ff" />
<rect x="614" y="62" width="32" height="1" fill="#ff00ff" />
<rect x="614" y="42" width="1" height="21" fill="#ff00ff" />
<rect x="645" y="42" width="1" height="21" fill="#ff00ff" />
<rect x="616" y="44" width="28" height="17" fill="#fff" />
<rect x="616" y="44" width="28" height="1" fill="#ff00ff" />
<rect x="616" y="60" width="28" height="1" fill="#ff00ff" />
<rect x="616" y="44" width="1" height="17" fill="#ff00ff" />
<rect x="643" y="44" width="1" height="17" fill="#ff00ff" />
<rect x="622" y="45" width="1" height="15" fill="#ff00ff" />
<path d="M617,51 L619.5,47 L622,51 Z M617,54 L619.5,58 L622,54 Z" fill="none" stroke="#ff00ff" stroke-width="1"/>
<rect x="617" y="52" width="5" height="1" fill="#ff00ff" />
<text x="625" y="57" font-size="12" fill="#000" font-family="Liberation Sans" >0</text>
<rect x="646" y="42" width="233" height="1" fill="#ff00ff" />
<rect x="646" y="160" width="233" height="1" fill="#ff00ff" />
<rect x="646" y="42" width="1" height="119" fill="#ff00ff" />
<rect x="878" y="42" width="1" height="119" fill="#ff00ff" />
<rect x="648" y="45" width="228" height="19" fill="#fff" />
<rect x="648" y="45" width="228" height="2" fill="#ff00ff" />
<rect x="648" y="62" width="228" height="2" fill="#ff00ff" />
<rect x="648" y="45" width="5" height="19" fill="#ff00ff" />
<rect x="874" y="45" width="2" height="19" fill="#ff00ff" />
<text x="654.2" y="59" font-size="12" fill="#000" font-family="Liberation Sans" textLength="68.8" lengthAdjust="spacingAndGlyphs" >Example Test</text>
<rect x="648" y="64" width="228" height="19" fill="#fff" />
<rect x="648" y="64" width="228" height="2" fill="#ff00ff" />
<rect x="648" y="81" width="228" height="2" fill="#ff00ff" />
<rect x="648" y="64" width="5" height="19" fill="#ff00ff" />
<rect x="874" y="64" width="2" height="19" fill="#ff00ff" />
<text x="654.2" y="78" font-size="12" fill="#000" font-family="Liberation Sans" textLength="153.7" lengthAdjust="spacingAndGlyphs" >-------------------------------</text>
<rect x="648" y="83" width="228" height="19" fill="#fff" />
<rect x="648" y="83" width="228" height="2" fill="#ff00ff" />
<rect x="648" y="100" width="228" height="2" fill="#ff00ff" />
<rect x="648" y="83" width="5" height="19" fill="#ff00ff" />
<rect x="874" y="83" width="2" height="19" fill="#ff00ff" />
<text x="654.2" y="97" font-size="12" fill="#000" font-family="Liberation Sans" textLength="173.4" lengthAdjust="spacingAndGlyphs" >List of tests is built in robot code.</text>
<rect x="648" y="102" width="228" height="19" fill="#fff" />
<rect x="648" y="102" width="228" height="2" fill="#ff00ff" />
<rect x="648" y="119" width="228" height="2" fill="#ff00ff" />
<rect x="648" y="102" width="5" height="19" fill="#ff00ff" />
<rect x="874" y="102" width="2" height="19" fill="#ff00ff" />
<text x="654.2" y="116" font-size="12" fill="#000" font-family="Liberation Sans" textLength="210.3" lengthAdjust="spacingAndGlyphs" >Replace with your own automated tests.</text>
<rect x="648" y="121" width="228" height="19" fill="#fff" />
<rect x="648" y="121" width="228" height="2" fill="#ff99ff" />
<rect x="648" y="138" width="228" height="2" fill="#ff99ff" />
<rect x="648" y="121" width="5" height="19" fill="#ff99ff" />
<rect x="874" y="121" width="2" height="19" fill="#ff99ff" />
<rect x="648" y="140" width="228" height="19" fill="#fff" />
<rect x="648" y="140" width="228" height="2" fill="#ff99ff" />
<rect x="648" y="157" width="228" height="2" fill="#ff99ff" />
<rect x="648" y="140" width="5" height="19" fill="#ff99ff" />
<rect x="874" y="140" width="2" height="19" fill="#ff99ff" />
<rect x="648" y="44" width="228" height="1" fill="#ff00ff" />
<rect x="879" y="48" width="24" height="3" fill="url(#aw)"/>
<rect x="903" y="29" width="32" height="32" fill="#fff" />
<rect x="903" y="29" width="32" height="1" fill="#000" />
<rect x="903" y="60" width="32" height="1" fill="#000" />
<rect x="903" y="29" width="1" height="32" fill="#000" />
<rect x="934" y="29" width="1" height="32" fill="#000" />
<ellipse cx="911.6" cy="36.2" rx="7.6" ry="6.6" fill="#fff6a8" stroke="#000" stroke-width="1" shape-rendering="auto"/>
<text x="905.3000000000001" y="39.400000000000006" font-size="9.5" fill="#10105a" font-family="Liberation Sans" textLength="12.5" lengthAdjust="spacingAndGlyphs" font-weight="bold" >NT</text>
<rect x="924" y="33" width="7" height="7" fill="#555" />
<rect x="925" y="34" width="2" height="2" fill="#bbb" />
<rect x="928" y="34" width="2" height="2" fill="#bbb" />
<rect x="925" y="37" width="2" height="2" fill="#bbb" />
<rect x="928" y="37" width="2" height="2" fill="#bbb" />
<rect x="910" y="45" width="7" height="3" fill="#ff00ff" />
<rect x="908" y="43" width="1" height="7" fill="#ff00ff" />
<rect x="908" y="43" width="2" height="1" fill="#ff00ff" />
<rect x="908" y="49" width="2" height="1" fill="#ff00ff" />
<rect x="918" y="43" width="1" height="7" fill="#ff00ff" />
<rect x="917" y="43" width="2" height="1" fill="#ff00ff" />
<rect x="917" y="49" width="2" height="1" fill="#ff00ff" />
<rect x="910" y="45" width="7" height="3" fill="#ff88ff" />
<path d="M919,46.5 H924 Q927,46.5 927,45" fill="none" stroke="#000" stroke-width="1"/>
<path d="M924,45 L927,41 L930,45 Z" fill="#000"/>
<g transform="translate(905.5,48.5) rotate(45)" shape-rendering="auto"><rect x="0" y="-2" width="14" height="4" fill="#000"/><rect x="0.5" y="-1.5" width="3" height="3" fill="#f00"/><rect x="3.5" y="-1.5" width="2" height="3" fill="#888"/><rect x="5.5" y="-1.5" width="6" height="3" fill="#e8d000"/><path d="M11.5,-1.5 L14,0 L11.5,1.5 Z" fill="#fff"/><rect x="14" y="-0.7" width="2" height="1.4" fill="#000"/></g>
<text x="922.5" y="59" font-size="9.5" fill="#000" font-family="Liberation Sans" textLength="10.5" lengthAdjust="spacingAndGlyphs" >Str</text>
</svg></body></html>
